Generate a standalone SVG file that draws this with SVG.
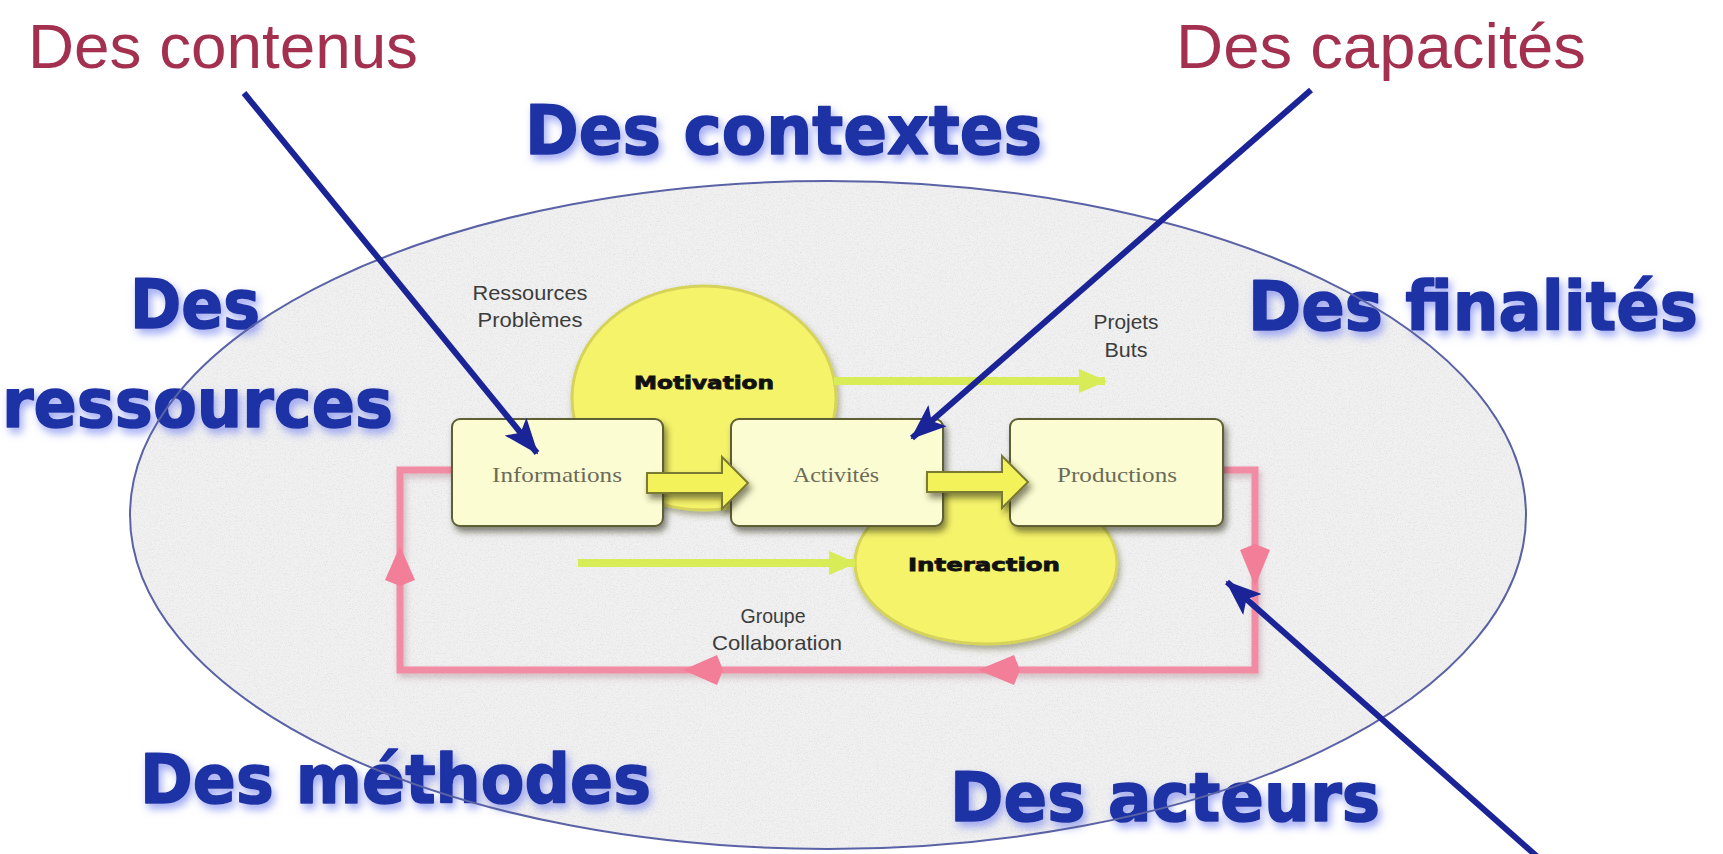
<svg xmlns="http://www.w3.org/2000/svg" width="1723" height="854" viewBox="0 0 1723 854">
<style>
.big{font-family:"DejaVu Sans","Liberation Sans",sans-serif;font-weight:bold;font-size:68px;fill:#1e31a5;stroke:#1e31a5;stroke-width:1.6;stroke-linejoin:round;filter:url(#glow)}
.red{font-family:"Liberation Sans",Arial,sans-serif;font-size:63px;fill:#a3304f}
.lbl{font-family:"Liberation Sans",Arial,sans-serif;font-size:21px;fill:#3c3c3c;text-anchor:middle}
.box rect{fill:#fbfcd2;stroke:#5e5e34;stroke-width:2;filter:url(#shadow)}
.box text{font-family:"Liberation Serif","Times New Roman",serif;font-size:22px;fill:#6b6b5a;text-anchor:middle}
.bubble ellipse{fill:#f5f36a;stroke:#d6d35a;stroke-width:3;filter:url(#shadow2)}
.bubble text{font-family:"DejaVu Sans",sans-serif;font-weight:bold;font-size:18px;fill:#111;stroke:#111;stroke-width:0.8;text-anchor:middle}
.blue{stroke:#1b2496;stroke-width:6;fill:none;marker-end:url(#bhead)}
.lime{stroke:#d8ec58;stroke-width:8;fill:none;marker-end:url(#lhead)}
.pink{stroke:#f28ca4;stroke-width:7;fill:none;filter:url(#pshadow)}
.phead{fill:#f27e98}
.blk{fill:#f4f25a;stroke:#7a7a30;stroke-width:2;filter:url(#shadow)}
</style>
<defs>
<filter id="glow" x="-10%" y="-30%" width="120%" height="170%">
<feGaussianBlur in="SourceAlpha" stdDeviation="4" result="b"/>
<feOffset in="b" dx="3" dy="5" result="o"/>
<feFlood flood-color="#7f8cf0" flood-opacity="0.75"/>
<feComposite in2="o" operator="in" result="g"/>
<feMerge><feMergeNode in="g"/><feMergeNode in="SourceGraphic"/></feMerge>
</filter>
<filter id="shadow" x="-10%" y="-10%" width="130%" height="140%">
<feDropShadow dx="3" dy="5" stdDeviation="3" flood-color="#2a2a10" flood-opacity="0.55"/>
</filter>
<filter id="shadow2" x="-10%" y="-10%" width="130%" height="140%">
<feDropShadow dx="2" dy="4" stdDeviation="3" flood-color="#555520" flood-opacity="0.45"/>
</filter>
<filter id="pshadow" x="-5%" y="-10%" width="115%" height="130%">
<feDropShadow dx="2" dy="4" stdDeviation="3" flood-color="#884050" flood-opacity="0.3"/>
</filter>
<filter id="granite" x="0" y="0" width="100%" height="100%">
<feTurbulence type="fractalNoise" baseFrequency="0.75" numOctaves="3" seed="7" result="n"/>
<feColorMatrix in="n" type="matrix" values="0 0 0 0 0.72  0 0 0 0 0.72  0 0 0 0 0.74  2.0 0 0 0 -0.9" result="s"/>
<feComposite in="s" in2="SourceAlpha" operator="in" result="sp"/>
<feMerge><feMergeNode in="SourceGraphic"/><feMergeNode in="sp"/></feMerge>
</filter>
<marker id="bhead" viewBox="0 0 36 28" refX="34" refY="14" markerWidth="36" markerHeight="28" markerUnits="userSpaceOnUse" orient="auto">
<path d="M0,0 L36,14 L0,28 L8,14 z" fill="#1b2496"/>
</marker>
<marker id="lhead" viewBox="0 0 28 24" refX="26" refY="12" markerWidth="28" markerHeight="24" markerUnits="userSpaceOnUse" orient="auto">
<path d="M0,0 L28,12 L0,24 z" fill="#d8ec58"/>
</marker>
</defs>
<rect width="1723" height="854" fill="#ffffff"/>

<g id="context-ellipse">
<ellipse cx="828" cy="515" rx="698" ry="334" fill="#f1f1f1" filter="url(#granite)"/>
</g>

<g id="loop">
<path class="pink" d="M452,470 H400 V670 H1255 V470 H1223"/>
<polygon class="phead" points="400,546 415,580 400,586 385,580"/>
<polygon class="phead" points="683,670 717,655 723,670 717,685"/>
<polygon class="phead" points="978,670 1014,655 1020,670 1014,685"/>
<polygon class="phead" points="1255,586 1240,550 1255,544 1270,550"/>
</g>

<g id="motivation" class="bubble">
<ellipse cx="704" cy="398" rx="132" ry="112"/>
<text x="704" y="389" textLength="140" lengthAdjust="spacingAndGlyphs">Motivation</text>
</g>
<g id="interaction" class="bubble">
<ellipse cx="986" cy="563" rx="131" ry="81"/>
<text x="984" y="571" textLength="152" lengthAdjust="spacingAndGlyphs">Interaction</text>
</g>

<g id="connectors">
<line class="lime" x1="834" y1="381" x2="1105" y2="381"/>
<line class="lime" x1="578" y1="563" x2="855" y2="563"/>
</g>

<g id="informations" class="box">
<rect x="452" y="419" width="211" height="107" rx="8"/>
<text x="557" y="482" textLength="130" lengthAdjust="spacingAndGlyphs">Informations</text>
</g>
<g id="activites" class="box">
<rect x="731" y="419" width="212" height="107" rx="8"/>
<text x="836" y="482" textLength="86" lengthAdjust="spacingAndGlyphs">Activités</text>
</g>
<g id="productions" class="box">
<rect x="1010" y="419" width="213" height="107" rx="8"/>
<text x="1117" y="482" textLength="120" lengthAdjust="spacingAndGlyphs">Productions</text>
</g>

<g id="block-arrows">
<polygon class="blk" points="647,473 722,473 722,457 748,483 722,509 722,493 647,493"/>
<polygon class="blk" points="927,472 1002,472 1002,456 1028,482 1002,508 1002,492 927,492"/>
</g>

<g id="labels">
<text class="lbl" x="530" y="300" textLength="115" lengthAdjust="spacingAndGlyphs">Ressources</text>
<text class="lbl" x="530" y="327" textLength="105" lengthAdjust="spacingAndGlyphs">Problèmes</text>
<text class="lbl" x="1126" y="329" textLength="65" lengthAdjust="spacingAndGlyphs">Projets</text>
<text class="lbl" x="1126" y="357" textLength="43" lengthAdjust="spacingAndGlyphs">Buts</text>
<text class="lbl" x="773" y="623" textLength="65" lengthAdjust="spacingAndGlyphs">Groupe</text>
<text class="lbl" x="777" y="650" textLength="130" lengthAdjust="spacingAndGlyphs">Collaboration</text>
</g>

<g id="titles">
<text class="red" x="28" y="68" textLength="390" lengthAdjust="spacingAndGlyphs">Des contenus</text>
<text class="red" x="1176" y="68" textLength="410" lengthAdjust="spacingAndGlyphs">Des capacités</text>
<text class="big" x="525" y="154" textLength="517" lengthAdjust="spacingAndGlyphs">Des contextes</text>
<text class="big" x="130" y="328" textLength="130" lengthAdjust="spacingAndGlyphs">Des</text>
<text class="big" x="2" y="427" textLength="391" lengthAdjust="spacingAndGlyphs">ressources</text>
<text class="big" x="1248" y="330" textLength="450" lengthAdjust="spacingAndGlyphs">Des finalités</text>
<text class="big" x="140" y="803" textLength="511" lengthAdjust="spacingAndGlyphs">Des méthodes</text>
<text class="big" x="950" y="821" textLength="430" lengthAdjust="spacingAndGlyphs">Des acteurs</text>
</g>

<g id="context-outline">
<ellipse cx="828" cy="515" rx="698" ry="334" fill="none" stroke="#5a62a6" stroke-width="2"/>
</g>

<g id="pointers">
<line class="blue" x1="244" y1="93" x2="537" y2="453"/>
<line class="blue" x1="1311" y1="90" x2="912" y2="438"/>
<line class="blue" x1="1541" y1="860" x2="1227" y2="582"/>
</g>
</svg>
